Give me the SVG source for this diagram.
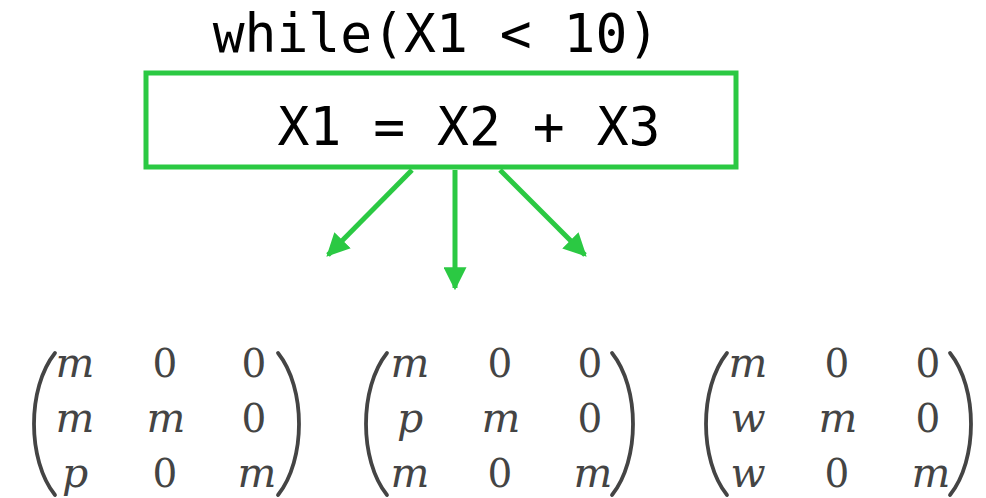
<svg xmlns="http://www.w3.org/2000/svg" width="986" height="498" viewBox="0 0 986 498">
<style>
.code{font-family:"DejaVu Sans Mono",monospace;font-size:53px;fill:#000;text-anchor:middle}
.conn{stroke:#2bc943;stroke-width:5;fill:none}
.mx{font-family:"DejaVu Serif",serif;font-size:39px;fill:#444;text-anchor:middle}
.mx .v{font-style:italic;font-size:41px}
.par{stroke:#444;stroke-width:3.8;fill:none;stroke-linecap:round}
</style>
<defs>
<marker id="ah" viewBox="0 0 10 10" refX="9" refY="5" markerWidth="4.6" markerHeight="4.6" orient="auto" markerUnits="strokeWidth">
<path d="M0,0 L10,5 L0,10 Z" fill="#2bc943"/>
</marker>
<path id="lp" d="M0,0 C-28,35 -28,107 0,142"/>
</defs>
<rect width="986" height="498" fill="#fff"/>
<g id="loop">
<text class="code" x="436" y="52">while(X1 &lt; 10)</text>
</g>
<g id="stmt">
<rect x="146" y="73" width="590" height="94" fill="none" stroke="#2bc943" stroke-width="5"/>
<text class="code" x="469" y="145">X1 = X2 + X3</text>
</g>
<g id="connectors">
<line class="conn" x1="412" y1="170" x2="328" y2="255" marker-end="url(#ah)"/>
<line class="conn" x1="455" y1="170" x2="455" y2="288" marker-end="url(#ah)"/>
<line class="conn" x1="500" y1="170" x2="585" y2="255" marker-end="url(#ah)"/>
</g>
<g id="matrix1" class="mx">
<use href="#lp" class="par" transform="translate(55,353)"/>
<use href="#lp" class="par" transform="translate(278,353) scale(-1,1)"/>
<text x="75" y="377" class="v">m</text><text x="165" y="377">0</text><text x="254" y="377">0</text>
<text x="75" y="432" class="v">m</text><text x="166" y="432" class="v">m</text><text x="254" y="432">0</text>
<text x="75" y="487" class="v">p</text><text x="165" y="487">0</text><text x="257" y="487" class="v">m</text>
</g>
<g id="matrix2" class="mx">
<use href="#lp" class="par" transform="translate(387,353)"/>
<use href="#lp" class="par" transform="translate(612,353) scale(-1,1)"/>
<text x="410" y="377" class="v">m</text><text x="500" y="377">0</text><text x="590" y="377">0</text>
<text x="410" y="432" class="v">p</text><text x="501" y="432" class="v">m</text><text x="590" y="432">0</text>
<text x="410" y="487" class="v">m</text><text x="500" y="487">0</text><text x="593" y="487" class="v">m</text>
</g>
<g id="matrix3" class="mx">
<use href="#lp" class="par" transform="translate(727,353)"/>
<use href="#lp" class="par" transform="translate(950,353) scale(-1,1)"/>
<text x="748" y="377" class="v">m</text><text x="837" y="377">0</text><text x="928" y="377">0</text>
<text x="748" y="432" class="v">w</text><text x="838" y="432" class="v">m</text><text x="928" y="432">0</text>
<text x="748" y="487" class="v">w</text><text x="837" y="487">0</text><text x="931" y="487" class="v">m</text>
</g>
</svg>
